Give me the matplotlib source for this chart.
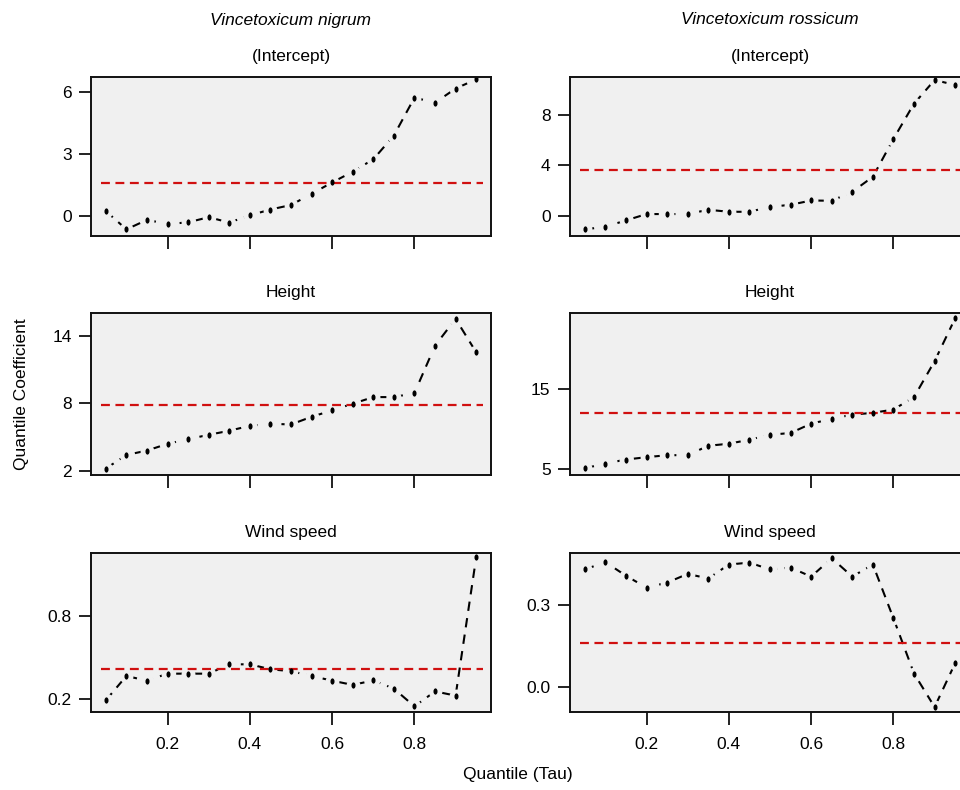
import matplotlib
matplotlib.use("Agg")
import matplotlib.pyplot as plt
from matplotlib.path import Path
from matplotlib.transforms import Affine2D

plt.rcParams['font.family'] = ['Liberation Sans', 'DejaVu Sans']

tau = [0.05, 0.10, 0.15, 0.20, 0.25, 0.30, 0.35, 0.40, 0.45, 0.50,
       0.55, 0.60, 0.65, 0.70, 0.75, 0.80, 0.85, 0.90, 0.95]

species = ["Vincetoxicum nigrum", "Vincetoxicum rossicum"]
terms = ["(Intercept)", "Height", "Wind speed"]

# V. nigrum
nig_int = [0.24, -0.65, -0.19, -0.39, -0.31, -0.06, -0.32, 0.03, 0.31, 0.53,
           1.07, 1.62, 2.14, 2.74, 3.89, 5.72, 5.48, 6.16, 6.61]
nig_height = [2.18, 3.39, 3.78, 4.38, 4.79, 5.18, 5.54, 5.98, 6.16, 6.10,
              6.78, 7.35, 7.94, 8.53, 8.53, 8.89, 13.10, 15.48, 12.51]
nig_wind = [0.188, 0.365, 0.331, 0.382, 0.382, 0.382, 0.45, 0.45, 0.414, 0.40,
            0.365, 0.331, 0.30, 0.333, 0.273, 0.144, 0.253, 0.222, 1.228]
# V. rossicum
ros_int = [-1.05, -0.84, -0.34, 0.16, 0.16, 0.16, 0.50, 0.34, 0.34, 0.73,
           0.89, 1.23, 1.21, 1.92, 3.10, 6.09, 8.87, 10.73, 10.34]
ros_height = [5.13, 5.71, 6.21, 6.50, 6.75, 6.75, 7.92, 8.17, 8.67, 9.29,
              9.50, 10.67, 11.25, 11.79, 12.0, 12.42, 13.96, 18.42, 23.75]
ros_wind = [0.428, 0.455, 0.405, 0.362, 0.380, 0.412, 0.395, 0.446, 0.453, 0.428,
            0.435, 0.402, 0.469, 0.402, 0.446, 0.250, 0.049, -0.073, 0.087]

# OLS estimates (red lines)
nig_ols = [1.59, 7.85, 0.416]
ros_ols = [3.62, 12.0, 0.159]

series = [[nig_int, nig_height, nig_wind], [ros_int, ros_height, ros_wind]]
ols = [nig_ols, ros_ols]

ylims = [[(-0.97, 6.72), (1.61, 16.0), (0.103, 1.26)],
         [(-1.57, 10.97), (4.29, 24.4), (-0.091, 0.488)]]
yticks = [[[0, 3, 6], [2, 8, 14], [0.2, 0.8]],
          [[0, 4, 8], [5, 15], [0.0, 0.3]]]
ytlabels = [[["0", "3", "6"], ["2", "8", "14"], ["0.2", "0.8"]],
            [["0", "4", "8"], ["5", "15"], ["0.0", "0.3"]]]
xticks = [0.2, 0.4, 0.6, 0.8]

W, H = 960, 790
fig = plt.figure(figsize=(9.6, 7.9), dpi=100)

lefts = [91, 570]
rows = [(77, 236), (313, 475), (553, 712)]
bg = '#f0f0f0'
dot = Path.unit_circle().transformed(Affine2D().scale(0.65, 1.0))

for c in range(2):
    for r in range(3):
        top, bot = rows[r]
        ax = fig.add_axes([lefts[c] / W, (H - bot) / H, 400 / W, (bot - top) / H])
        ax.set_facecolor(bg)
        vals = series[c][r]
        ax.plot(tau, vals, color='black', lw=1.5, ls=(0, (4.5, 3.5)), zorder=3)
        # gap around each point, then the point itself (like R type="b")
        ax.plot(tau, vals, ls='none', marker='o', ms=10, mfc=bg, mec='none', zorder=4)
        ax.plot(tau, vals, ls='none', marker=dot, ms=4.5, mfc='black', mec='none', zorder=5)
        ax.axhline(ols[c][r], xmin=0.025, xmax=0.98, color='#d01010', lw=1.6,
                   ls=(0, (4, 2.5)), zorder=4.5)
        ax.set_xlim(0.014, 0.986)
        ax.set_ylim(*ylims[c][r])
        ax.set_yticks(yticks[c][r])
        ax.set_yticklabels(ytlabels[c][r])
        ax.set_xticks(xticks)
        if r == 2:
            ax.set_xticklabels(["0.2", "0.4", "0.6", "0.8"])
        else:
            ax.set_xticklabels([])
        ax.tick_params(axis='both', length=9, width=1.3, labelsize=12.5, color='#111111')
        ax.tick_params(axis='x', pad=9)
        ax.tick_params(axis='y', pad=5)
        for s in ax.spines.values():
            s.set_linewidth(1.4)
            s.set_color('#111111')
            s.set_zorder(6)
        fig.text((lefts[c] + 200) / W, 1 - (rows[r][0] - 21) / H, terms[r],
                 ha='center', va='center', fontsize=12.5)
    fig.text((lefts[c] + 200) / W, 1 - 20 / H, species[c], ha='center', va='center',
             fontsize=12.5, style='italic')

fig.text(22 / W, 1 - 394 / H, "Quantile Coefficient", rotation=90, ha='center', va='center', fontsize=12.5)
fig.text(518 / W, 1 - 775 / H, "Quantile (Tau)", ha='center', va='center', fontsize=12.5)

fig.savefig("out.png", dpi=100, facecolor='white')
